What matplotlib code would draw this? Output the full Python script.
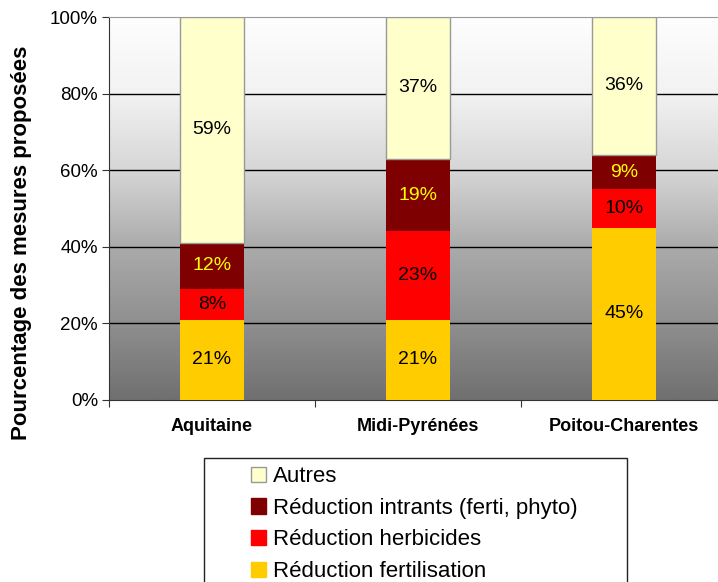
import matplotlib.pyplot as plt
import numpy as np
from matplotlib.patches import Patch, Rectangle

plt.rcParams['font.family'] = ['Liberation Sans', 'DejaVu Sans']

regions = ['Aquitaine', 'Midi-Pyrénées', 'Poitou-Charentes']
fertilisation = [21, 21, 45]
herbicides = [8, 23, 10]
intrants = [12, 19, 9]
autres = [59, 37, 36]
series_names = ['Réduction fertilisation', 'Réduction herbicides',
                'Réduction intrants (ferti, phyto)', 'Autres']
yticks = [0, 20, 40, 60, 80, 100]

colors = ['#FFCC00', '#FF0000', '#7F0000', '#FFFFCC']
text_colors = ['black', 'black', '#FFFF00', 'black']

fig = plt.figure(figsize=(7.18, 5.82), dpi=100)
ax = fig.add_axes([109/718, 1-400/582, 618/718, 383/582])

# fond en dégradé blanc (haut) -> gris (bas)
grad = np.linspace(0, 1, 256).reshape(-1, 1)
cmap = plt.matplotlib.colors.LinearSegmentedColormap.from_list(
    'bg', [(0, '#fefefe'), (0.2, '#f2f2f2'), (0.4, '#d6d6d6'),
           (0.6, '#ababab'), (0.8, '#8f8f8f'), (1, '#707070')])
ax.imshow(grad, cmap=cmap, aspect='auto', extent=[-0.5, 2.5, 0, 100],
          origin='upper', zorder=0)

x = np.arange(len(regions))
bottom = np.zeros(len(regions))
data = [fertilisation, herbicides, intrants, autres]
for i, vals in enumerate(data):
    ec = '#999999' if i == 3 else 'none'
    ax.bar(x, vals, 0.31, bottom=bottom, color=colors[i], edgecolor=ec,
           linewidth=1, zorder=3)
    for xi, v, b in zip(x, vals, bottom):
        ax.text(xi, b + v/2, f'{v}%', ha='center', va='center',
                fontsize=14, color=text_colors[i], zorder=4)
    bottom += np.array(vals)

ax.set_xlim(-0.5, 2.5)
ax.set_ylim(0, 100)
ax.set_yticks(yticks)
ax.set_yticklabels([f'{t}%' for t in yticks], fontsize=13.5)
for t in yticks[1:-1]:
    ax.axhline(t, color='black', linewidth=1, zorder=1)

ax.set_xticks([-0.5, 0.5, 1.5, 2.5])
ax.set_xticklabels([])
ax.tick_params(axis='x', length=5, direction='out', color='#333333')
ax.tick_params(axis='y', length=5, direction='out', color='#333333', pad=3)
for xi, r in zip(x, regions):
    ax.text(xi, -6.8, r, ha='center', va='center', fontsize=13,
            fontweight='bold')

ax.spines['left'].set_color('#333333')
ax.spines['bottom'].set_color('#333333')
ax.spines['top'].set_color('#999999')
ax.spines['right'].set_visible(False)

fig.text(22/718, 1-243/582, 'Pourcentage des mesures proposées',
         rotation=90, ha='center', va='center', fontsize=16,
         fontweight='bold')

# légende
fig.add_artist(Rectangle((204/718, -0.05), 423/718, 0.05 + (582-458)/582,
                         transform=fig.transFigure, facecolor='white',
                         edgecolor='#222222', linewidth=1))
handles = [Patch(facecolor=colors[i], edgecolor='#999999' if i == 3 else colors[i])
           for i in [3, 2, 1, 0]]
labels = [series_names[i] for i in [3, 2, 1, 0]]
fig.legend(handles, labels, loc='upper left',
           bbox_to_anchor=(251/718, 1-466/582), frameon=False, fontsize=16,
           handlelength=0.68, handleheight=0.68, handletextpad=0.32,
           labelspacing=0.48, borderpad=0, borderaxespad=0)

fig.savefig('out.png', dpi=100)
